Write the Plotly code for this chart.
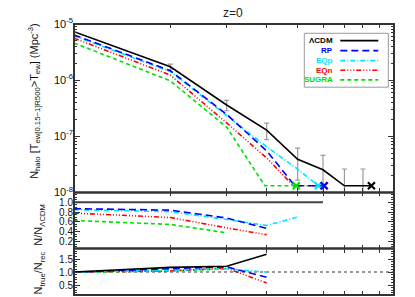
import plotly.graph_objects as go

# ---------------- data ----------------
# top panel: cumulative halo number density vs temperature (keV)
T_LCDM = [1, 2, 3, 4, 5, 6, 7, 8.5]
N_LCDM = [7.3e-6, 1.73e-6, 3.6e-7, 1.29e-7, 3.9e-8, 2.53e-8, 1.31e-8, 1.31e-8]
T_RP = [1, 2, 3, 4, 4.9, 6.05]
N_RP = [6.4e-6, 1.47e-6, 2.45e-7, 5.5e-8, 1.31e-8, 1.31e-8]
T_EQP = [1, 2, 3, 4, 5, 5.8]
N_EQP = [6.15e-6, 1.42e-6, 2.34e-7, 6.5e-8, 2.6e-8, 1.31e-8]
T_EQN = [1, 2, 3, 4, 4.85, 6.05]
N_EQN = [5.6e-6, 1.23e-6, 1.73e-7, 4.1e-8, 1.31e-8, 1.31e-8]
T_SUGRA = [1, 2, 3, 3.95, 4.95]
N_SUGRA = [4.6e-6, 0.97e-6, 1.45e-7, 1.31e-8, 1.31e-8]

# error bars on LCDM
T_ERR = [2, 3, 4, 5, 6, 7, 8]
N_ERR = [1.73e-6, 3.6e-7, 1.29e-7, 3.9e-8, 2.53e-8, 1.31e-8, 1.31e-8]
ERR_HI = [2.0e-7, 7.5e-8, 4.2e-8, 2.25e-8, 2.04e-8, 1.3e-8, 1.3e-8]
ERR_LO = [2.0e-7, 7.5e-8, 4.2e-8, 2.25e-8, 2.04e-8, 1.3e-8, 1.3e-8]

# middle panel: N / N_LCDM
TR_LCDM = [1, 2, 3, 4, 5, 6]
R_LCDM = [1, 1, 1, 1, 1, 1]
TR_RP = [1, 2, 3, 4]
R_RP = [0.87, 0.84, 0.68, 0.47]
TR_EQP = [1, 2, 3, 4, 5]
R_EQP = [0.85, 0.81, 0.65, 0.53, 0.70]
TR_EQN = [1, 2, 3, 4]
R_EQN = [0.78, 0.69, 0.48, 0.34]
TR_SUGRA = [1, 2, 3]
R_SUGRA = [0.63, 0.55, 0.38]

# bottom panel: N_true / N_rec
TQ = [1, 2, 3, 4]
Q_LCDM = [1.0, 1.18, 1.22, 1.68]
Q_RP = [1.0, 1.12, 1.20, 0.80]
Q_EQP = [1.0, 1.06, 1.12, 1.0]
Q_EQN = [1.0, 1.05, 1.15, 0.58]
TQ_SUGRA = [1, 2, 3]
Q_SUGRA = [1.0, 1.04, 1.12]

NAMES = ["ΛCDM", "RP", "EQp", "EQn", "SUGRA"]
COLORS = ["#000000", "#0000ff", "#00e5ff", "#ff0000", "#00e000"]
DASHES = ["solid", "7px,4px", "5px,2px,1px,2px", "5px,2px,1px,2px,1px,2px,1px,2px", "4px,3px"]
LW = 1.6

series_top = [(T_LCDM, N_LCDM), (T_RP, N_RP), (T_EQP, N_EQP), (T_EQN, N_EQN), (T_SUGRA, N_SUGRA)]
series_mid = [(TR_LCDM, R_LCDM), (TR_RP, R_RP), (TR_EQP, R_EQP), (TR_EQN, R_EQN), (TR_SUGRA, R_SUGRA)]
series_bot = [(TQ, Q_LCDM), (TQ, Q_RP), (TQ, Q_EQP), (TQ, Q_EQN), (TQ_SUGRA, Q_SUGRA)]

fig = go.Figure()

# error bars
fig.add_trace(go.Scatter(
    x=T_ERR, y=N_ERR, mode="markers", marker=dict(size=1, color="rgba(0,0,0,0)"),
    error_y=dict(type="data", symmetric=False, array=ERR_HI, arrayminus=ERR_LO,
                 color="#9a9a9a", thickness=1.2, width=2.5),
    xaxis="x", yaxis="y", showlegend=False, hoverinfo="skip"))

order = [4, 3, 2, 1, 0]
for i in order:
    x, y = series_top[i]
    fig.add_trace(go.Scatter(x=x, y=y, mode="lines",
                             line=dict(color=COLORS[i], width=LW, dash=DASHES[i]),
                             xaxis="x", yaxis="y", showlegend=False))
for i in order:
    x, y = series_top[i]
    fig.add_trace(go.Scatter(x=[x[-1]], y=[y[-1]], mode="markers",
                             marker=dict(symbol="x-thin-open", size=7, color=COLORS[i],
                                         line=dict(color=COLORS[i], width=2.2)),
                             xaxis="x", yaxis="y", showlegend=False))
for i in order:
    x, y = series_mid[i]
    col = "#444444" if i == 0 else COLORS[i]
    fig.add_trace(go.Scatter(x=x, y=y, mode="lines",
                             line=dict(color=col, width=LW if i else 2.2, dash=DASHES[i]),
                             xaxis="x2", yaxis="y2", showlegend=False))
for i in order:
    x, y = series_bot[i]
    fig.add_trace(go.Scatter(x=x, y=y, mode="lines",
                             line=dict(color=COLORS[i], width=LW, dash=DASHES[i]),
                             xaxis="x3", yaxis="y3", showlegend=False))

# ---------------- layout ----------------
L, R, TOP, BOT = 74, 21, 24, 1.5
W, H = 415, 297
PH = H - TOP - BOT
PW = W - L - R


def py(p):
    return (H - BOT - p) / PH


def px(p):
    return (p - L) / PW


d1 = py(192.7)
d2 = py(249.0)

AX = "#333333"
FAM = "Liberation Sans, Arial, sans-serif"
tfont = dict(family=FAM, size=11, color="#111111")
tickfont = dict(family=FAM, size=10, color="#111111")
xt = [2, 3, 4, 5, 6, 7, 8, 9]


def xax(anchor):
    return dict(type="log", range=[0, 1], tickmode="array", tickvals=xt, ticks="inside", ticklen=4,
                tickcolor=AX, tickwidth=1, showticklabels=False, showgrid=False, automargin=False,
                zeroline=False, showline=False, mirror="ticks", anchor=anchor)


minor_log = [m * 10 ** e for e in (-8, -7, -6) for m in range(2, 10)]

fig.update_layout(
    width=W, height=H,
    margin=dict(l=L, r=R, t=TOP, b=BOT, autoexpand=False),
    paper_bgcolor="white", plot_bgcolor="white",
    font=tfont,
    xaxis=xax("y"),
    xaxis2=xax("y2"),
    xaxis3=xax("y3"),
    yaxis=dict(domain=[d1, 1], type="log", range=[-8, -5],
               tickmode="array", tickvals=[1e-8, 1e-7, 1e-6, 1e-5],
               ticktext=["10<sup>-8</sup>", "10<sup>-7</sup>", "10<sup>-6</sup>", "10<sup>-5</sup>"],
               ticks="inside", ticklen=6, tickcolor=AX, tickwidth=1,
               minor=dict(tickmode="array", tickvals=minor_log, ticks="inside", ticklen=3,
                          tickcolor=AX, tickwidth=1),
               showgrid=False, zeroline=False, showline=False, automargin=False,
               mirror="ticks", anchor="x", tickfont=dict(family=FAM, size=11, color="#111")),
    yaxis2=dict(domain=[d2, d1], range=[0.06, 1.2],
                tickmode="array", tickvals=[0.2, 0.4, 0.6, 0.8, 1.0],
                ticktext=["0.2", "0.4", "0.6", "0.8", "1.0"],
                ticks="inside", ticklen=6, tickcolor=AX, tickwidth=1,
                minor=dict(dtick=0.05, tick0=0, ticks="inside", ticklen=3, tickcolor=AX, tickwidth=1),
                showgrid=False, zeroline=False, showline=False, automargin=False,
                mirror="ticks", anchor="x2", tickfont=tickfont),
    yaxis3=dict(domain=[0, d2], range=[0.12, 1.9],
                tickmode="array", tickvals=[0.5, 1.0, 1.5], ticktext=["0.5", "1.0", "1.5"],
                ticks="inside", ticklen=6, tickcolor=AX, tickwidth=1,
                minor=dict(dtick=0.1, tick0=0, ticks="inside", ticklen=3, tickcolor=AX, tickwidth=1),
                showgrid=False, zeroline=False, showline=False, automargin=False,
                mirror="ticks", anchor="x3", tickfont=tickfont),
)

shapes = []
# panel frames
for xa, ya in (("x", "y"), ("x2", "y2"), ("x3", "y3")):
    shapes.append(dict(type="rect", xref=xa + " domain", yref=ya + " domain",
                       x0=0, x1=1, y0=0, y1=1, line=dict(color=AX, width=2),
                       fillcolor="rgba(0,0,0,0)", layer="above"))
# dotted reference line in bottom panel
shapes.append(dict(type="line", xref="x3 domain", yref="y3", x0=0, x1=1, y0=1, y1=1,
                   line=dict(color="#777777", width=1.5, dash="dot"), layer="below"))
# legend box
shapes.append(dict(type="rect", xref="paper", yref="paper",
                   x0=px(304.3), x1=px(388.3), y0=py(87.3), y1=py(33.3),
                   line=dict(color="#999999", width=1), fillcolor="white"))
rows = [40.7, 50.7, 60.7, 70.3, 80.0]
annotations = []
for i, name in enumerate(NAMES):
    yy = py(rows[i])
    shapes.append(dict(type="line", xref="paper", yref="paper",
                       x0=px(340.3), x1=px(378.3), y0=yy, y1=yy,
                       line=dict(color=COLORS[i], width=LW, dash=DASHES[i])))
    annotations.append(dict(xref="paper", yref="paper", x=px(335), y=yy, text="<b>%s</b>" % name,
                            showarrow=False, xanchor="right", yanchor="middle",
                            font=dict(family=FAM, size=8, color=COLORS[i])))

annotations.append(dict(xref="paper", yref="paper", x=px(233), y=py(13), text="z=0",
                        showarrow=False, xanchor="center", yanchor="middle",
                        font=dict(family=FAM, size=12, color="#222")))
annotations.append(dict(xref="paper", yref="paper", x=px(34), y=py(101),
                        text="N<sub>halo</sub> [T<sub>ew[0.15−1]R500</sub>&gt;T<sub>ew</sub>] (Mpc<sup>-3</sup>)",
                        textangle=-90, showarrow=False, xanchor="center", yanchor="middle",
                        font=tfont))
annotations.append(dict(xref="paper", yref="paper", x=px(39), y=py(225),
                        text="N/N<sub>ΛCDM</sub>", textangle=-90, showarrow=False,
                        xanchor="center", yanchor="middle", font=tfont))
annotations.append(dict(xref="paper", yref="paper", x=px(39), y=py(274),
                        text="N<sub>true</sub>/N<sub>rec</sub>", textangle=-90, showarrow=False,
                        xanchor="center", yanchor="middle", font=tfont))

fig.update_layout(shapes=shapes, annotations=annotations)

fig.write_html("out.html", config={"displayModeBar": False},
               post_script="document.body.style.margin='0';document.body.style.overflow='hidden';")
